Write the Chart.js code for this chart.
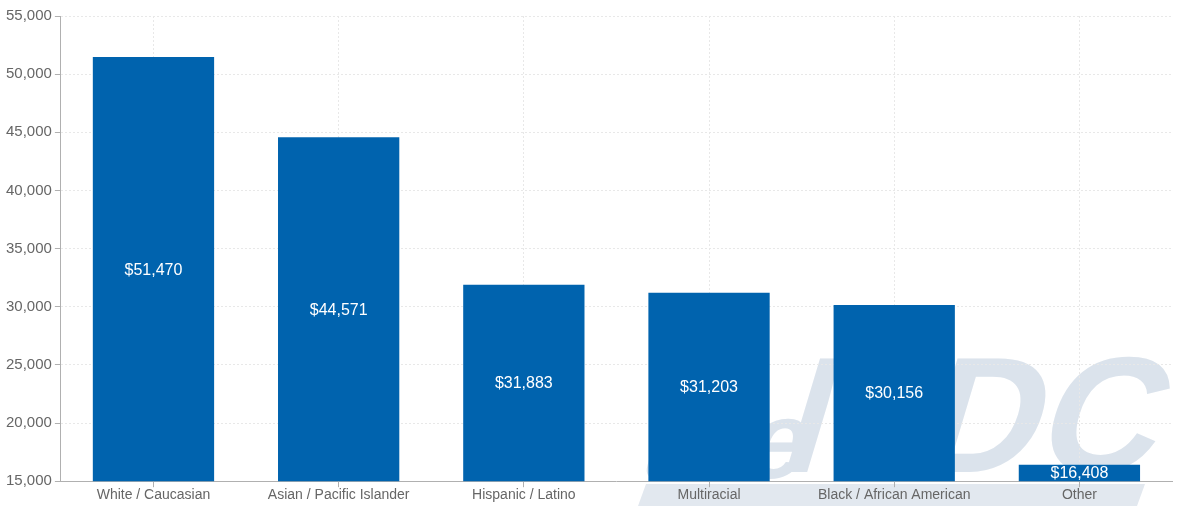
<!DOCTYPE html>
<html>
<head>
<meta charset="utf-8">
<script src="https://cdn.jsdelivr.net/npm/chart.js@4"></script>
<style>
    html, body { margin: 0; padding: 0; background: #ffffff; }
    #wrap { width: 1196px; height: 506px; }
</style>
</head>
<body>
<div id="wrap"><canvas id="myChart" width="1196" height="506"></canvas></div>
<script>
// median household income by race
var categories = ['White / Caucasian', 'Asian / Pacific Islander', 'Hispanic / Latino', 'Multiracial', 'Black / African American', 'Other'];
var incomes = [51470, 44571, 31883, 31203, 30156, 16408];
var yTicks = [15000, 20000, 25000, 30000, 35000, 40000, 45000, 50000, 55000];

var barColor = '#0063ae';
var gridColor = '#e8e8e8';
var axisColor = '#b0b0b0';
var textColor = '#666666';

// faint site logo behind the plot
const watermark =
{
    id: 'watermark',
    beforeDraw: function (chart)
    {
        var ctx = chart.ctx;
        ctx.save();
        ctx.fillStyle = '#e2e8ef';
        ctx.beginPath();
        ctx.moveTo(638, 506);
        ctx.lineTo(646, 484);
        ctx.lineTo(1145, 484);
        ctx.lineTo(1137, 506);
        ctx.closePath();
        ctx.fill();

        ctx.fillStyle = '#dbe3ec';
        ctx.setTransform(1, 0, -0.3, 1, 0, 0);
        ctx.font = 'bold 110px "Liberation Sans", Arial, sans-serif';
        ctx.textBaseline = 'alphabetic';
        ctx.fillText('the', 635 + 0.3 * 478, 478);
        ctx.font = 'bold 165px "Liberation Sans", Arial, sans-serif';
        ctx.fillText('MDC', 775 + 0.3 * 472, 472);
        ctx.restore();
    }
};

// dollar amount in the middle of each bar
const barValues =
{
    id: 'barValues',
    afterDatasetsDraw: function (chart)
    {
        var ctx = chart.ctx;
        var meta = chart.getDatasetMeta(0);
        var bottom = chart.chartArea.bottom;
        ctx.save();
        ctx.fillStyle = '#ffffff';
        ctx.font = '16px "Liberation Sans", Arial, sans-serif';
        ctx.textAlign = 'center';
        ctx.textBaseline = 'middle';
        meta.data.forEach(function (bar, i)
        {
            var label = '$' + incomes[i].toLocaleString('en-US');
            var base = Math.min(bar.base, bottom);
            ctx.fillText(label, bar.x, (bar.y + base) / 2 + 1);
        });
        ctx.restore();
    }
};

const data =
{
    labels: categories,
    datasets:
    [
        {
            data: incomes,
            backgroundColor: barColor,
            borderWidth: 0,
            categoryPercentage: 1.0,
            barPercentage: 0.655
        }
    ]
};

const config =
{
    type: 'bar',
    data: data,
    plugins: [watermark, barValues],
    options:
    {
        responsive: false,
        animation: false,
        layout:
        {
            padding: { top: 16, right: 24, left: 3, bottom: 2 }
        },
        plugins:
        {
            legend: { display: false },
            tooltip: { enabled: false }
        },
        scales:
        {
            x:
            {
                grid:
                {
                    offset: false,
                    color: gridColor,
                    tickColor: axisColor,
                    tickLength: 6,
                    tickBorderDash: []
                },
                border:
                {
                    color: axisColor,
                    width: 1,
                    dash: [2, 2]
                },
                ticks:
                {
                    color: textColor,
                    padding: 0,
                    maxRotation: 0,
                    font: { family: '"Liberation Sans", Arial, sans-serif', size: 14 }
                }
            },
            y:
            {
                min: 15000,
                max: 55000,
                afterBuildTicks: function (axis)
                {
                    axis.ticks = yTicks.map(function (v) { return { value: v }; });
                },
                grid:
                {
                    color: gridColor,
                    tickColor: axisColor,
                    tickLength: 6,
                    tickBorderDash: []
                },
                border:
                {
                    color: axisColor,
                    width: 1,
                    dash: [2, 2]
                },
                ticks:
                {
                    color: textColor,
                    padding: 3,
                    font: { family: '"Liberation Sans", Arial, sans-serif', size: 15 },
                    callback: function (value) { return value.toLocaleString('en-US'); }
                }
            }
        }
    }
};

const ctx = document.getElementById('myChart').getContext('2d');
if (ctx) {
    const myChart = new Chart(ctx, config);
} else {
    console.error('Element with ID "myChart" not found.');
}
</script>
</body>
</html>
